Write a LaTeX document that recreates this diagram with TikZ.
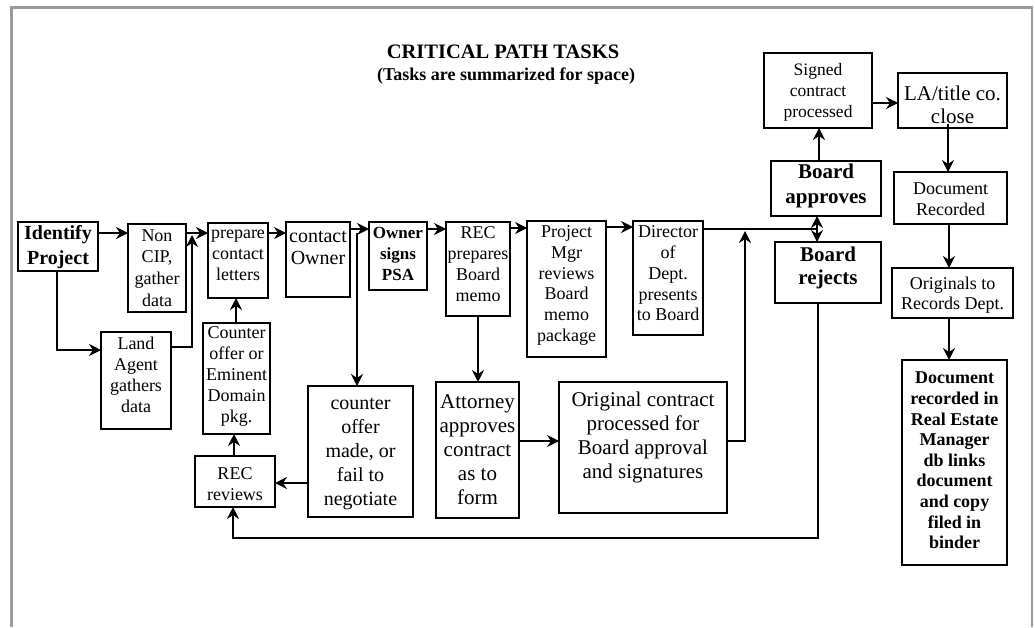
\documentclass[tikz,border=0pt]{standalone}
\usepackage{fontspec}
\setmainfont{Liberation Serif}
\usetikzlibrary{arrows.meta,fit}
\definecolor{framegray}{HTML}{9A9A9A}
\newcommand{\mkbox}[5]{%
  \path (#2,#3) coordinate (#1-a) (#4,#5) coordinate (#1-b);
  \node[box,fit=(#1-a)(#1-b)] (#1) {};}
\begin{document}
\begin{tikzpicture}[x=1pt,y=-1pt,
  box/.style={draw,line width=1.4pt,inner sep=0pt,outer sep=0pt},
  conn/.style={line width=1.3pt,-{Stealth[length=12pt,width=12pt,inset=4pt]}},
  plain/.style={line width=1.3pt},
  txt/.style={align=center,inner sep=0pt}]
\useasboundingbox (0,0) rectangle (1035,627);
\draw[framegray,line width=2.7pt] (11.5,627) -- (11.5,7.3) -- (1032,7.3) -- (1032,627);

% title
\node[txt,font=\fontsize{20.5}{24}\bfseries\selectfont] (title) at (503,52) {CRITICAL PATH TASKS};
\node[txt,font=\fontsize{18}{21}\bfseries\selectfont] (subtitle) at (506,76) {(Tasks are summarized for space)};

% boxes
\mkbox{ident}{18}{222}{98}{271}
\mkbox{noncip}{128}{224}{186}{312}
\mkbox{prep}{208}{223}{268}{298}
\mkbox{contact}{286}{222}{350}{297}
\mkbox{owner}{369}{222}{427}{290}
\mkbox{recprep}{446}{222}{510}{316}
\mkbox{pm}{527}{221}{606}{357}
\mkbox{dir}{633}{221}{703}{335}
\mkbox{land}{101}{332}{171}{429}
\mkbox{cpkg}{203}{323}{270}{434}
\mkbox{recrev}{195}{456}{275}{507}
\mkbox{cmade}{308}{386}{413}{517}
\mkbox{att}{436}{382}{519}{518}
\mkbox{orig}{559}{382}{727}{513}
\mkbox{bapp}{771}{161}{881}{216}
\mkbox{brej}{775}{242}{881}{303}
\mkbox{signed}{764}{53}{872}{128}
\mkbox{la}{898}{73}{1007}{128}
\mkbox{docrec}{894}{172}{1007}{224}
\mkbox{orgs}{892}{268}{1013}{318}
\mkbox{rem}{902}{360}{1007}{565}

% texts
\node[txt,font=\fontsize{20}{25}\bfseries\selectfont] (ident-t) at (58,247.5) {Identify\\Project};
\node[txt,font=\fontsize{18}{21.7}\selectfont] (noncip-t) at (157,268) {Non\\CIP,\\gather\\data};
\node[txt,font=\fontsize{18}{21}\selectfont] (prep-t) at (238,255) {prepare\\contact\\letters};
\node[txt,font=\fontsize{20}{22}\selectfont] (contact-t) at (318,248) {contact\\Owner};
\node[txt,font=\fontsize{17}{21}\bfseries\selectfont] (owner-t) at (398,254) {Owner\\signs\\PSA};
\node[txt,font=\fontsize{18}{21}\selectfont] (recprep-t) at (478,264.5) {REC\\prepares\\Board\\memo};
\node[txt,font=\fontsize{18}{20.8}\selectfont] (pm-t) at (566.5,285.5) {Project\\Mgr\\reviews\\Board\\memo\\package};
\node[txt,font=\fontsize{18}{20.8}\selectfont] (dir-t) at (668,273.5) {Director\\of\\Dept.\\presents\\to Board};
\node[txt,font=\fontsize{18}{21}\selectfont] (land-t) at (136,375) {Land\\Agent\\gathers\\data};
\node[txt,font=\fontsize{18}{20.8}\selectfont] (cpkg-t) at (236.5,376.5) {Counter\\offer or\\Eminent\\Domain\\pkg.};
\node[txt,font=\fontsize{18}{21}\selectfont] (recrev-t) at (235,484) {REC\\reviews};
\node[txt,font=\fontsize{20}{24}\selectfont] (cmade-t) at (360.5,454.5) {counter\\offer\\made, or\\fail to\\negotiate};
\node[txt,font=\fontsize{21}{24}\selectfont] (att-t) at (477.5,449.5) {Attorney\\approves\\contract\\as to\\form};
\node[txt,font=\fontsize{21}{23.7}\selectfont] (orig-t) at (643,437.5) {Original contract\\processed for\\Board approval\\and signatures};
\node[txt,font=\fontsize{21}{25}\bfseries\selectfont] (bapp-t) at (826,185.5) {Board\\approves};
\node[txt,font=\fontsize{21}{23}\bfseries\selectfont] (brej-t) at (828,267.5) {Board\\rejects};
\node[txt,font=\fontsize{17.5}{21}\selectfont] (signed-t) at (818,92) {Signed\\contract\\processed};
\node[txt,font=\fontsize{21}{23}\selectfont] (la-t) at (952.5,105) {LA/title co.\\close};
\node[txt,font=\fontsize{18}{21}\selectfont] (docrec-t) at (950.5,199.5) {Document\\Recorded};
\node[txt,font=\fontsize{18}{20}\selectfont] (orgs-t) at (952.5,295) {Originals to\\Records Dept.};
\node[txt,font=\fontsize{18}{20.6}\bfseries\selectfont] (rem-t) at (954.5,460.5) {Document\\recorded in\\Real Estate\\Manager\\db links\\document\\and copy\\filed in\\binder};

% junction coordinates
\coordinate (j1) at (192,235);
\coordinate (j2) at (357,233);
\coordinate (j3) at (745,231);
\coordinate (j4) at (817,229);
\coordinate (j5) at (948,124);

% connectors
\draw[conn] (ident.east |- 0,233) -- (noncip.west |- 0,233);
\draw[conn] (noncip.east |- 0,233) -- (prep.west |- 0,233);
\draw[conn] (ident.south -| 57,0) |- (land.west |- 0,350);
\draw[conn] (land.east |- 0,347) -| (j1);
\draw[conn] (prep.east |- 0,233) -- (contact.west |- 0,233);
\draw[conn] (cpkg.north -| 236,0) -- (prep.south -| 236,0);
\draw[conn] (recrev.north -| 234,0) -- (cpkg.south -| 234,0);
\draw[conn] (cmade.west |- 0,483) -- (recrev.east |- 0,483);
\draw[conn] (contact.east |- 0,229) -- (owner.west |- 0,229);
\draw[conn] (j2) -- (cmade.north -| j2);
\draw[conn] (owner.east |- 0,229) -- (recprep.west |- 0,229);
\draw[conn] (recprep.east |- 0,228) -- (pm.west |- 0,228);
\draw[conn] (pm.east |- 0,227) -- (dir.west |- 0,227);
\draw[conn] (recprep.south) -- (att.north -| recprep.south);
\draw[conn] (att.east |- 0,441) -- (orig.west |- 0,441);
\draw[conn] (orig.east |- 0,441) -| (j3);
\draw[plain] (dir.east |- 0,229) -- (j4);
\draw[conn] (j4) -- (bapp.south -| j4);
\draw[conn] (j4) -- (brej.north -| j4);
\draw[conn] (bapp.north -| 819,0) -- (signed.south -| 819,0);
\draw[conn] (signed.east |- 0,103) -- (la.west |- 0,103);
\draw[conn] (j5) -- (docrec.north -| j5);
\draw[conn] (docrec.south -| 949,0) -- (orgs.north -| 949,0);
\draw[conn] (orgs.south -| 949,0) -- (rem.north -| 949,0);
\draw[conn] (brej.south -| 818,0) -- (818,538) -| (recrev.south -| 233,0);
\end{tikzpicture}
\end{document}
